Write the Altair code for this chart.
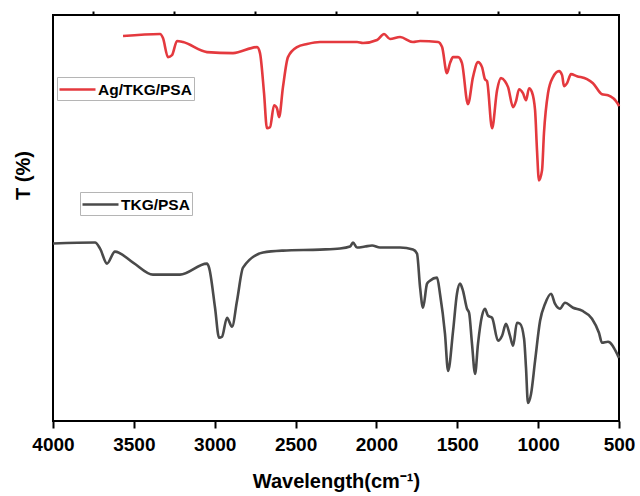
import altair as alt
import pandas as pd

# Ag/TKG/PSA spectrum (wavenumber cm-1, transmittance in arbitrary offset units)
red_wn = [3567, 3338, 3320, 3289, 3264, 3233, 3196, 3048, 2887, 2738, 2720, 2695, 2677, 2658,
          2633, 2615, 2602, 2578, 2547, 2491, 2429, 2349, 2287, 2120, 2083, 1996, 1953, 1916,
          1854, 1774, 1730, 1619, 1594, 1564, 1545, 1526, 1495, 1471, 1434, 1403, 1372, 1347,
          1329, 1316, 1285, 1254, 1230, 1205, 1186, 1155, 1137, 1118, 1094, 1075, 1056, 1038,
          1019, 1007, 995, 976, 964, 939, 908, 871, 852, 840, 821, 797, 760, 698, 661, 605,
          568, 506, 500]
red_t = [384, 386, 382, 363, 365, 379, 378, 368, 367, 373, 367, 327, 292, 293,
         315, 312, 303, 333, 363, 373, 376, 378, 378, 378, 377, 380, 386, 381,
         383, 378, 379, 378, 373, 347, 357, 363, 363, 357, 316, 343, 358, 353,
         341, 339, 292, 330, 342, 339, 333, 313, 319, 331, 327, 320, 332, 328,
         310, 270, 240, 250, 287, 327, 343, 349, 345, 334, 337, 346, 344, 341, 337, 326,
         325, 316, 314]

# TKG/PSA spectrum
gray_wn = [4000, 3740, 3709, 3666, 3617, 3505, 3382, 3215, 3048, 3035, 2998, 2973, 2955, 2924,
           2893, 2862, 2825, 2701, 2578, 2349, 2225, 2163, 2145, 2120, 2071, 2027, 1978, 1916,
           1854, 1774, 1749, 1730, 1712, 1687, 1669, 1625, 1607, 1576, 1557, 1526, 1502, 1483,
           1465, 1440, 1427, 1409, 1390, 1372, 1347, 1329, 1310, 1285, 1248, 1223, 1199, 1174,
           1155, 1131, 1112, 1087, 1075, 1063, 1044, 1019, 988, 957, 920, 896, 865, 834, 784,
           729, 667, 624, 605, 568, 506, 500]
gray_t = [177, 178, 172, 157, 169, 158, 146, 146, 157, 153, 113, 83, 84, 103,
          94, 120, 153, 168, 170, 171, 172, 174, 178, 173, 174, 175, 173, 173,
          173, 171, 167, 133, 113, 137, 140, 143, 127, 87, 50, 90, 127, 137,
          130, 112, 108, 77, 47, 77, 105, 112, 105, 103, 80, 85, 97, 85,
          75, 98, 97, 82, 53, 18, 27, 60, 100, 117, 127, 117, 112, 118, 113,
          110, 102, 88, 78, 79, 65, 63]

series_names = ["Ag/TKG/PSA", "TKG/PSA"]
series_colors = ["#e4393e", "#4a4a4a"]

x_major = [4000, 3500, 3000, 2500, 2000, 1500, 1000, 500]
x_minor = [3750, 3250, 2750, 2250, 1750, 1250, 750]

red_df = pd.DataFrame({"wn": red_wn, "t": red_t, "series": series_names[0]})
gray_df = pd.DataFrame({"wn": gray_wn, "t": gray_t, "series": series_names[1]})

FONT = "Liberation Sans"

x_scale = alt.Scale(domain=[500, 4000], reverse=True, nice=False, zero=False)
y_scale = alt.Scale(domain=[0, 405], nice=False, zero=False)

y_axis = alt.Axis(title="T (%)", labels=False, ticks=False, domain=False, grid=False,
                  titleFont=FONT, titleFontSize=20, titleFontWeight="bold", titleColor="black",
                  titleAngle=270, titleAlign="center", titleBaseline="middle",
                  titleX=-30, titleY=160)

major_axis = alt.Axis(values=x_major, format="d", grid=False, domain=False,
                      tickSize=7, tickWidth=2, tickColor="black",
                      labelFont=FONT, labelFontSize=19, labelFontWeight="bold", labelColor="black",
                      labelPadding=7, labelOverlap=False, labelFlush=False,
                      title="Wavelength(cm\u207b\u00b9)", titleFont=FONT, titleFontSize=20,
                      titleFontWeight="bold", titleColor="black", titlePadding=17)

minor_axis = alt.Axis(values=x_minor, grid=False, domain=False, labels=False, title=None,
                      tickSize=4, tickWidth=2, tickColor="black")


def legend(x, y):
    return alt.Legend(orient="none", legendX=x, legendY=y, title=None,
                      symbolType="M-2,0H2", symbolSize=324, symbolOffset=8,
                      symbolStrokeWidth=2.6,
                      labelFont=FONT, labelFontSize=15.5, labelFontWeight="bold",
                      labelColor="black", labelOffset=10, strokeColor="#b5b5b5",
                      fillColor="white", padding=2)


red = alt.Chart(red_df).mark_line(strokeWidth=2.6, interpolate="monotone").encode(
    x=alt.X("wn:Q", scale=x_scale, axis=major_axis),
    y=alt.Y("t:Q", scale=y_scale, axis=y_axis),
    color=alt.Color("series:N", scale=alt.Scale(domain=[series_names[0]], range=[series_colors[0]]),
                    legend=legend(4, 62)),
)

gray = alt.Chart(gray_df).mark_line(strokeWidth=2.6, interpolate="monotone").encode(
    x=alt.X("wn:Q", scale=x_scale, axis=minor_axis),
    y=alt.Y("t:Q", scale=y_scale, axis=y_axis),
    color=alt.Color("series:N", scale=alt.Scale(domain=[series_names[1]], range=[series_colors[1]]),
                    legend=legend(27, 177)),
)

chart = alt.layer(red, gray).resolve_scale(color="independent").resolve_axis(x="independent").properties(
    width=566, height=406,
    autosize=alt.AutoSizeParams(type="none"),
    padding={"left": 53, "top": 15, "right": 21, "bottom": 75},
    background="white",
).configure_view(stroke="black", strokeWidth=2)

chart.save("out.html", embed_options={"renderer": "svg", "actions": False})
